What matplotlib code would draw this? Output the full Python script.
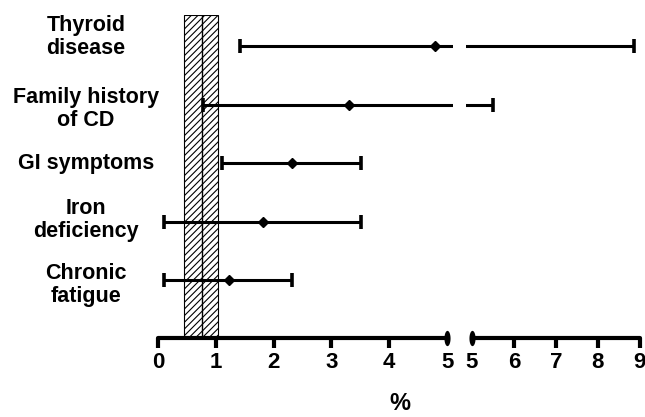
import numpy as np
import matplotlib
matplotlib.use("Agg")
import matplotlib.pyplot as plt
import matplotlib.transforms as mtransforms

plt.rcParams['font.family'] = ['Liberation Sans', 'DejaVu Sans']
plt.rcParams['font.weight'] = 'bold'
plt.rcParams['hatch.linewidth'] = 0.8

# categories, bottom to top
labels = ["Chronic\nfatigue", "Iron\ndeficiency", "GI symptoms",
          "Family history\nof CD", "Thyroid\ndisease"]
label_shift = [-0.09, 0.03, 0.0, -0.08, 0.16]   # small nudges of the text blocks
estimate = [1.22, 1.81, 2.31, 3.31, 4.80]
ci_low = [0.10, 0.10, 1.10, 0.78, 1.41]
ci_high = [2.31, 3.51, 3.51, 5.51, 8.85]

# reference range band
band_low, band_high, band_mid = 0.455, 1.04, 0.756

left_ticks = [0, 1, 2, 3, 4, 5]
right_ticks = [5, 6, 7, 8, 9]
break_at = 5

y = np.arange(len(labels))
est = np.array(estimate)
err = [est - np.array(ci_low), np.array(ci_high) - est]

fig = plt.figure(figsize=(6.45, 4.17), dpi=100)
bot, top = 1 - 338 / 417, 1 - 15 / 417
ax1 = fig.add_axes([158 / 645, bot, (452.8 - 158) / 645, top - bot])
ax2 = fig.add_axes([466 / 645, bot, (642 - 466) / 645, top - bot])

# vertical oval used as the break mark
t = np.linspace(0, 2 * np.pi, 40)
oval = list(zip(0.4 * np.cos(t), np.sin(t)))

ylim = (-0.99, 4.53)
for ax, lim, ticks in [(ax1, (0, 5.1), left_ticks), (ax2, (4.86, 9.05), right_ticks)]:
    ax.errorbar(est, y, xerr=err, fmt='none', ecolor='black',
                elinewidth=2.2, capsize=5, capthick=2.6, zorder=3)
    ax.set_xlim(*lim)
    ax.set_ylim(*ylim)
    for s in ['top', 'right', 'left']:
        ax.spines[s].set_visible(False)
    ax.spines['bottom'].set_linewidth(3)
    ax.spines['bottom'].set_bounds(ticks[0], ticks[-1])
    ax.spines['bottom'].set_capstyle('round')
    ax.set_xticks(ticks)
    ax.set_xticklabels([str(v) for v in ticks])
    ax.tick_params(axis='x', length=7, width=3, labelsize=16, pad=3)
    ax.set_yticks([])
    ax.patch.set_visible(False)
    # the break end gets an oval instead of a tick
    ax.xaxis.get_major_ticks()[ticks.index(break_at)].tick1line.set_visible(False)
    ax.plot([break_at], [0], transform=ax.get_xaxis_transform(), marker=oval,
            ms=11, color='black', mew=0, clip_on=False, zorder=5)

# point estimates all sit on the 0-5 segment
ax1.plot(est, y, 'D', color='black', ms=5.5, zorder=4)

# hatched band with centre line
ax1.axvspan(band_low, band_high, facecolor='white', edgecolor='black',
            hatch='/////', lw=0.8, zorder=1)
ax1.axvline(band_mid, color='black', lw=1, zorder=2)

# category labels
lab_tr = mtransforms.blended_transform_factory(fig.transFigure, ax1.transData)
for yi, txt, dy in zip(y, labels, label_shift):
    fig.text(86 / 645, yi + dy, txt, transform=lab_tr, ha='center',
             va='center', fontsize=15.5, fontweight='bold', linespacing=1.12)

fig.text(400 / 645, 1 - 404 / 417, '%', ha='center', va='center',
         fontsize=17, fontweight='bold')

fig.savefig('out.png', dpi=100)
